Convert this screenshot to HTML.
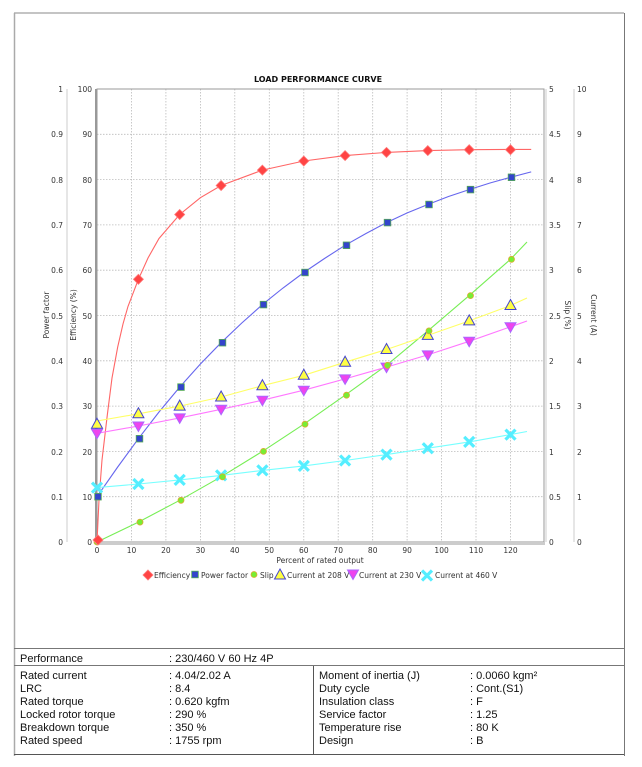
<!DOCTYPE html>
<html><head><meta charset="utf-8"><style>
html,body{margin:0;padding:0;background:#fff;}
svg{display:block;}
.t{font-family:"DejaVu Sans",sans-serif;font-size:7.5px;fill:#333;}
.tb{font-family:"Liberation Sans",Arial,sans-serif;font-size:11px;fill:#111;}
</style></head><body>
<svg width="642" height="767" viewBox="0 0 642 767" xmlns="http://www.w3.org/2000/svg">
<rect width="642" height="767" fill="#fff"/>
<!-- outer border -->
<line x1="14" y1="13" x2="624" y2="13" stroke="#888" stroke-width="1"/>
<line x1="14.5" y1="13" x2="14.5" y2="756" stroke="#aaa" stroke-width="1.5"/>
<line x1="624.5" y1="13" x2="624.5" y2="756" stroke="#777" stroke-width="1"/>

<text x="318" y="82" text-anchor="middle" class="t" style="font-weight:bold;font-size:8px;fill:#111">LOAD PERFORMANCE CURVE</text>

<!-- grid -->
<g stroke="#bbb" stroke-width="0.8" stroke-dasharray="1.5,1.5">
<line x1="131.5" y1="89" x2="131.5" y2="542"/><line x1="165.9" y1="89" x2="165.9" y2="542"/><line x1="200.4" y1="89" x2="200.4" y2="542"/><line x1="234.8" y1="89" x2="234.8" y2="542"/><line x1="269.3" y1="89" x2="269.3" y2="542"/><line x1="303.8" y1="89" x2="303.8" y2="542"/><line x1="338.2" y1="89" x2="338.2" y2="542"/><line x1="372.7" y1="89" x2="372.7" y2="542"/><line x1="407.1" y1="89" x2="407.1" y2="542"/><line x1="441.6" y1="89" x2="441.6" y2="542"/><line x1="476" y1="89" x2="476" y2="542"/><line x1="510.5" y1="89" x2="510.5" y2="542"/>
<line x1="97" y1="134.3" x2="544" y2="134.3"/><line x1="97" y1="179.6" x2="544" y2="179.6"/><line x1="97" y1="224.9" x2="544" y2="224.9"/><line x1="97" y1="270.2" x2="544" y2="270.2"/><line x1="97" y1="315.5" x2="544" y2="315.5"/><line x1="97" y1="360.8" x2="544" y2="360.8"/><line x1="97" y1="406.1" x2="544" y2="406.1"/><line x1="97" y1="451.4" x2="544" y2="451.4"/><line x1="97" y1="496.7" x2="544" y2="496.7"/>
</g>
<rect x="97" y="89" width="447" height="453" fill="none" stroke="#999" stroke-width="1"/>
<line x1="96" y1="89" x2="96" y2="543" stroke="#999" stroke-width="2"/>
<line x1="96" y1="543.5" x2="545" y2="543.5" stroke="#ccc" stroke-width="3"/>

<!-- left axes -->
<line x1="67" y1="89" x2="67" y2="542" stroke="#ddd" stroke-width="1.5"/>
<g class="t" text-anchor="end">
<text x="63" y="92">1</text><text x="63" y="137">0.9</text><text x="63" y="183">0.8</text><text x="63" y="228">0.7</text><text x="63" y="273">0.6</text><text x="63" y="319">0.5</text><text x="63" y="364">0.4</text><text x="63" y="409">0.3</text><text x="63" y="455">0.2</text><text x="63" y="500">0.1</text><text x="63" y="545">0</text>
<text x="92" y="92">100</text><text x="92" y="137">90</text><text x="92" y="183">80</text><text x="92" y="228">70</text><text x="92" y="273">60</text><text x="92" y="319">50</text><text x="92" y="364">40</text><text x="92" y="409">30</text><text x="92" y="455">20</text><text x="92" y="500">10</text><text x="92" y="545">0</text>
</g>
<text class="t" transform="translate(49,315) rotate(-90)" text-anchor="middle">Power factor</text>
<text class="t" transform="translate(76,315) rotate(-90)" text-anchor="middle">Efficiency (%)</text>

<!-- right axes -->
<line x1="546" y1="89" x2="546" y2="542" stroke="#ddd" stroke-width="1.5"/>
<line x1="574" y1="89" x2="574" y2="542" stroke="#ddd" stroke-width="1.5"/>
<g class="t">
<text x="549" y="92">5</text><text x="549" y="137">4.5</text><text x="549" y="183">4</text><text x="549" y="228">3.5</text><text x="549" y="273">3</text><text x="549" y="319">2.5</text><text x="549" y="364">2</text><text x="549" y="409">1.5</text><text x="549" y="455">1</text><text x="549" y="500">0.5</text><text x="549" y="545">0</text>
<text x="577" y="92">10</text><text x="577" y="137">9</text><text x="577" y="183">8</text><text x="577" y="228">7</text><text x="577" y="273">6</text><text x="577" y="319">5</text><text x="577" y="364">4</text><text x="577" y="409">3</text><text x="577" y="455">2</text><text x="577" y="500">1</text><text x="577" y="545">0</text>
</g>
<text class="t" transform="translate(565,315) rotate(90)" text-anchor="middle">Slip (%)</text>
<text class="t" transform="translate(591,315) rotate(90)" text-anchor="middle">Current (A)</text>

<!-- x ticks -->
<g class="t" text-anchor="middle">
<text x="97" y="553">0</text><text x="131.5" y="553">10</text><text x="165.9" y="553">20</text><text x="200.4" y="553">30</text><text x="234.8" y="553">40</text><text x="269.3" y="553">50</text><text x="303.8" y="553">60</text><text x="338.2" y="553">70</text><text x="372.7" y="553">80</text><text x="407.1" y="553">90</text><text x="441.6" y="553">100</text><text x="476" y="553">110</text><text x="510.5" y="553">120</text>
<text x="320" y="563">Percent of rated output</text>
</g>

<!-- curves -->
<g fill="none" stroke-width="1.1">
<polyline stroke="#ff6666" points="97,542 99,500 102,460 107.3,415 112,378 117.7,347 123,324 128,306.4 138.4,279.3 148,258 159,238.5 179.7,214.5 200.4,197.7 221.1,185.5 262.4,170.1 303.8,161 345.1,155.6 386.5,152.4 427.8,150.6 469.2,149.7 510.5,149.4 531.2,149.4"/>
<polyline stroke="#6666ee" points="97,496.7 117.7,467 138.4,438.7 159,412 179.7,387.1 200.4,364 221.1,342.7 241.8,323 262.4,304.6 283,288 303.8,272.5 324.5,258.5 345.1,245.3 366,233.5 386.5,222.6 407,213 427.8,204.5 448.5,196.5 469.2,189.6 490,183 510.5,177.3 531.2,171.9"/>
<polyline stroke="#77ee55" points="97,542 138.4,522.1 179.7,500.3 221.1,476.8 262.4,451.4 303.8,424.2 345.1,395.2 386.5,365.3 427.8,330.9 469.2,295.6 510.5,259.3 527,242"/>
<polyline stroke="#ffff66" points="97,421 138.4,413.8 179.7,406.1 221.1,397 262.4,385.7 303.8,375.3 345.1,362.2 386.5,349.5 427.8,335.4 469.2,320.9 510.5,305.5 527,298"/>
<polyline stroke="#ff77ff" points="97,433.3 138.4,426 179.7,417.9 221.1,409.3 262.4,400.2 303.8,390.2 345.1,378.9 386.5,367.1 427.8,354.9 469.2,341.3 510.5,326.8 527,321"/>
<polyline stroke="#77ffff" points="97,487.6 138.4,484 179.7,479.9 221.1,475.4 262.4,470.4 303.8,465.9 345.1,460.5 386.5,454.6 427.8,448.2 469.2,441.9 510.5,434.6 527,431.5"/>
</g>

<defs>
<path id="dm" d="M0,-5 L5,0 L0,5 L-5,0Z" fill="#ff4444" stroke="#ff7777" stroke-width="0.8"/>
<rect id="sq" x="-3.3" y="-3.3" width="6.6" height="6.6" fill="#3344cc" stroke="#55aa55" stroke-width="0.8"/>
<circle id="ci" r="3" fill="#77ee33" stroke="#ddaa33" stroke-width="0.8"/>
<path id="tu" d="M0,-6 L5.5,4 L-5.5,4Z" fill="#ffff44" stroke="#4444cc" stroke-width="1"/>
<path id="td" d="M0,5.5 L5.5,-4 L-5.5,-4Z" fill="#ee44ee" stroke="#aa66ff" stroke-width="1"/>
<path id="xx" d="M-5,-5 L5,5 M5,-5 L-5,5" stroke="#55eeff" stroke-width="3.2" fill="none"/>
</defs>

<!-- markers -->
<g>
<use href="#td" x="97" y="433.3"/><use href="#td" x="138.4" y="426"/><use href="#td" x="179.7" y="417.9"/><use href="#td" x="221.1" y="409.3"/><use href="#td" x="262.4" y="400.2"/><use href="#td" x="303.8" y="390.2"/><use href="#td" x="345.1" y="378.9"/><use href="#td" x="386.5" y="367.1"/><use href="#td" x="427.8" y="354.9"/><use href="#td" x="469.2" y="341.3"/><use href="#td" x="510.5" y="326.8"/>
<use href="#tu" x="97" y="424.2"/><use href="#tu" x="138.4" y="413.8"/><use href="#tu" x="179.7" y="406.1"/><use href="#tu" x="221.1" y="397"/><use href="#tu" x="262.4" y="385.7"/><use href="#tu" x="303.8" y="375.3"/><use href="#tu" x="345.1" y="362.2"/><use href="#tu" x="386.5" y="349.5"/><use href="#tu" x="427.8" y="335.4"/><use href="#tu" x="469.2" y="320.9"/><use href="#tu" x="510.5" y="305.5"/>
<use href="#xx" x="97" y="487.6"/><use href="#xx" x="138.4" y="484"/><use href="#xx" x="179.7" y="479.9"/><use href="#xx" x="221.1" y="475.4"/><use href="#xx" x="262.4" y="470.4"/><use href="#xx" x="303.8" y="465.9"/><use href="#xx" x="345.1" y="460.5"/><use href="#xx" x="386.5" y="454.6"/><use href="#xx" x="427.8" y="448.2"/><use href="#xx" x="469.2" y="441.9"/><use href="#xx" x="510.5" y="434.6"/>
<use href="#ci" x="97" y="542"/><use href="#ci" x="140" y="522.1"/><use href="#ci" x="181" y="500.3"/><use href="#ci" x="222.5" y="476.8"/><use href="#ci" x="263.5" y="451.4"/><use href="#ci" x="305" y="424.2"/><use href="#ci" x="346.5" y="395.2"/><use href="#ci" x="387.5" y="365.3"/><use href="#ci" x="429" y="330.9"/><use href="#ci" x="470.5" y="295.6"/><use href="#ci" x="511.5" y="259.3"/>
<use href="#sq" x="98" y="496.7"/><use href="#sq" x="139.5" y="438.7"/><use href="#sq" x="181" y="387.1"/><use href="#sq" x="222.5" y="342.7"/><use href="#sq" x="263.5" y="304.6"/><use href="#sq" x="305" y="272.5"/><use href="#sq" x="346.5" y="245.3"/><use href="#sq" x="387.5" y="222.6"/><use href="#sq" x="429" y="204.5"/><use href="#sq" x="470.5" y="189.6"/><use href="#sq" x="511.5" y="177.3"/>
<use href="#dm" x="98" y="540"/><use href="#dm" x="138.4" y="279.3"/><use href="#dm" x="179.7" y="214.5"/><use href="#dm" x="221.1" y="185.5"/><use href="#dm" x="262.4" y="170.1"/><use href="#dm" x="303.8" y="161"/><use href="#dm" x="345.1" y="155.6"/><use href="#dm" x="386.5" y="152.4"/><use href="#dm" x="427.8" y="150.6"/><use href="#dm" x="469.2" y="149.7"/><use href="#dm" x="510.5" y="149.7"/>
</g>

<!-- legend -->
<g class="t">
<use href="#dm" x="148" y="575"/><text x="154" y="578">Efficiency</text>
<use href="#sq" x="195" y="574.5"/><text x="201" y="578">Power factor</text>
<use href="#ci" x="254" y="574.5"/><text x="260" y="578">Slip</text>
<use href="#tu" x="280" y="575"/><text x="287" y="578">Current at 208 V</text>
<use href="#td" x="353" y="574"/><text x="359" y="578">Current at 230 V</text>
<use href="#xx" x="427" y="575.5"/><text x="435" y="578">Current at 460 V</text>
</g>

<!-- table -->
<line x1="14" y1="648.5" x2="624" y2="648.5" stroke="#777" stroke-width="1"/>
<line x1="14" y1="665.5" x2="624" y2="665.5" stroke="#777" stroke-width="1"/>
<line x1="14" y1="754.5" x2="624" y2="754.5" stroke="#555" stroke-width="1"/>
<line x1="313.5" y1="666" x2="313.5" y2="754" stroke="#555" stroke-width="1"/>
<g class="tb">
<text x="20" y="662">Performance</text><text x="169" y="662">: 230/460 V 60 Hz 4P</text>
<text x="20" y="679">Rated current</text><text x="169" y="679">: 4.04/2.02 A</text>
<text x="20" y="692">LRC</text><text x="169" y="692">: 8.4</text>
<text x="20" y="705">Rated torque</text><text x="169" y="705">: 0.620 kgfm</text>
<text x="20" y="718">Locked rotor torque</text><text x="169" y="718">: 290 %</text>
<text x="20" y="731">Breakdown torque</text><text x="169" y="731">: 350 %</text>
<text x="20" y="744">Rated speed</text><text x="169" y="744">: 1755 rpm</text>
<text x="319" y="679">Moment of inertia (J)</text><text x="470" y="679">: 0.0060 kgm²</text>
<text x="319" y="692">Duty cycle</text><text x="470" y="692">: Cont.(S1)</text>
<text x="319" y="705">Insulation class</text><text x="470" y="705">: F</text>
<text x="319" y="718">Service factor</text><text x="470" y="718">: 1.25</text>
<text x="319" y="731">Temperature rise</text><text x="470" y="731">: 80 K</text>
<text x="319" y="744">Design</text><text x="470" y="744">: B</text>
</g>
</svg>
</body></html>
